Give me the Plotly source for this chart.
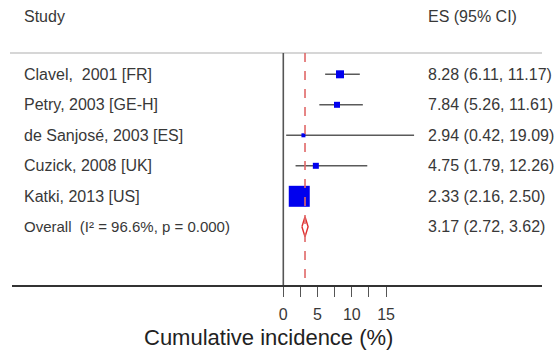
import plotly.graph_objects as go

studies = ["Clavel,  2001 [FR]", "Petry, 2003 [GE-H]", "de Sanjosé, 2003 [ES]",
           "Cuzick, 2008 [UK]", "Katki, 2013 [US]"]
es = [8.28, 7.84, 2.94, 4.75, 2.33]
lo = [6.11, 5.26, 0.42, 1.79, 2.16]
hi = [11.17, 11.61, 19.09, 12.26, 2.50]
weights = [8, 6, 4, 6, 21]  # box sizes (px) reflecting study weight

overall_label = "Overall  (I² = 96.6%, p = 0.000)"
overall_es, overall_lo, overall_hi = 3.17, 2.72, 3.62

tick_major = [0, 5, 10, 15]
tick_minor = [2.5, 7.5, 12.5]
x_title = "Cumulative incidence (%)"
col_left = "Study"
col_right = "ES (95% CI)"

# ---- layout geometry (pixels) ----
W, H = 557, 352
L, R = 12, 542            # extent of horizontal axis line
px0, ppu = 283.3, 6.85    # pixel of x=0, pixels per unit
row0_px, row_step = 74.3, 30.5
axis_px = 285
header_px = 53

xr = [(L - px0) / ppu, (R - px0) / ppu]
def row_of(py):
    return (py - row0_px) / row_step
yr = [row_of(axis_px), row_of(0)]
def xp(px):
    return (px - L) / (R - L)

text_col = "#383838"
FONT = "Liberation Sans, Arial, sans-serif"
fs = 16

fig = go.Figure()

n = len(studies)
rows = list(range(n))
# CI lines
for i in rows:
    fig.add_trace(go.Scatter(x=[lo[i], hi[i]], y=[i, i], mode="lines",
                             line=dict(color="#5a5a5a", width=1.6),
                             hoverinfo="skip", showlegend=False))
# boxes
fig.add_trace(go.Scatter(x=es, y=rows, mode="markers",
                         marker=dict(symbol="square", size=weights, color="#0000ee",
                                     opacity=1, line=dict(width=0)),
                         showlegend=False))
# overall diamond
oy = n
dh = 10 / row_step
fig.add_trace(go.Scatter(x=[overall_lo, overall_es, overall_hi, overall_es, overall_lo],
                         y=[oy, oy - dh, oy, oy + dh, oy], mode="lines",
                         fill="toself", fillcolor="white",
                         line=dict(color="#e03030", width=1.4),
                         showlegend=False))

# header line
fig.add_shape(type="line", xref="paper", yref="y", x0=xp(10), x1=xp(542),
              y0=row_of(header_px), y1=row_of(header_px),
              line=dict(color="#c8c8c8", width=1.5))
# null line at 0
fig.add_shape(type="line", xref="x", yref="y", x0=0, x1=0,
              y0=row_of(header_px), y1=row_of(axis_px),
              line=dict(color="#555555", width=1.6))
# overall dashed line
fig.add_shape(type="line", xref="x", yref="y", x0=overall_es, x1=overall_es,
              y0=row_of(header_px), y1=row_of(axis_px),
              line=dict(color="#e06868", width=1.6, dash="dash"))

# text
fig.add_annotation(text=col_left, xref="paper", yref="y", x=xp(22), y=row_of(16),
                   xanchor="left", yanchor="middle", showarrow=False,
                   font=dict(size=fs, color=text_col, family=FONT))
fig.add_annotation(text=col_right, xref="paper", yref="y", x=xp(426), y=row_of(16),
                   xanchor="left", yanchor="middle", showarrow=False,
                   font=dict(size=fs, color=text_col, family=FONT))
labels = studies + [overall_label]
label_fs = [fs] * n + [fs - 1]
es_txt = [f"{e:.2f} ({a:.2f}, {b:.2f})" for e, a, b in zip(es, lo, hi)]
es_txt.append(f"{overall_es:.2f} ({overall_lo:.2f}, {overall_hi:.2f})")
for i, (lab, t) in enumerate(zip(labels, es_txt)):
    fig.add_annotation(text=lab, xref="paper", yref="y", x=xp(22), y=i,
                       xanchor="left", yanchor="middle", showarrow=False,
                       font=dict(size=label_fs[i], color=text_col, family=FONT))
    fig.add_annotation(text=t, xref="paper", yref="y", x=xp(426), y=i,
                       xanchor="left", yanchor="middle", showarrow=False,
                       font=dict(size=fs, color=text_col, family=FONT))

fig.add_annotation(text=x_title, xref="paper", yref="paper", x=xp(268), y=-(337 - axis_px) / (axis_px),
                   xanchor="center", yanchor="middle", showarrow=False,
                   font=dict(size=22, color="#222222", family=FONT))

fig.update_xaxes(range=xr, showgrid=False, zeroline=False, showline=True,
                 linecolor="#333333", linewidth=1.5,
                 tickmode="array", tickvals=tick_major, ticktext=[str(t) for t in tick_major],
                 ticks="outside", ticklen=10, tickwidth=1.3, tickcolor="#555555",
                 ticklabelstandoff=4,
                 tickfont=dict(size=fs, color=text_col, family=FONT),
                 minor=dict(tickmode="array", tickvals=tick_minor, ticks="outside",
                            ticklen=10, tickwidth=1.3, tickcolor="#555555", showgrid=False),
                 fixedrange=True)
fig.update_yaxes(range=yr, visible=False, showgrid=False, zeroline=False, fixedrange=True)

fig.update_layout(width=W, height=H, margin=dict(l=L, r=W - R, t=0, b=H - axis_px),
                  paper_bgcolor="white", plot_bgcolor="white", showlegend=False,
                  font=dict(family=FONT))

fig.write_html("out.html")
